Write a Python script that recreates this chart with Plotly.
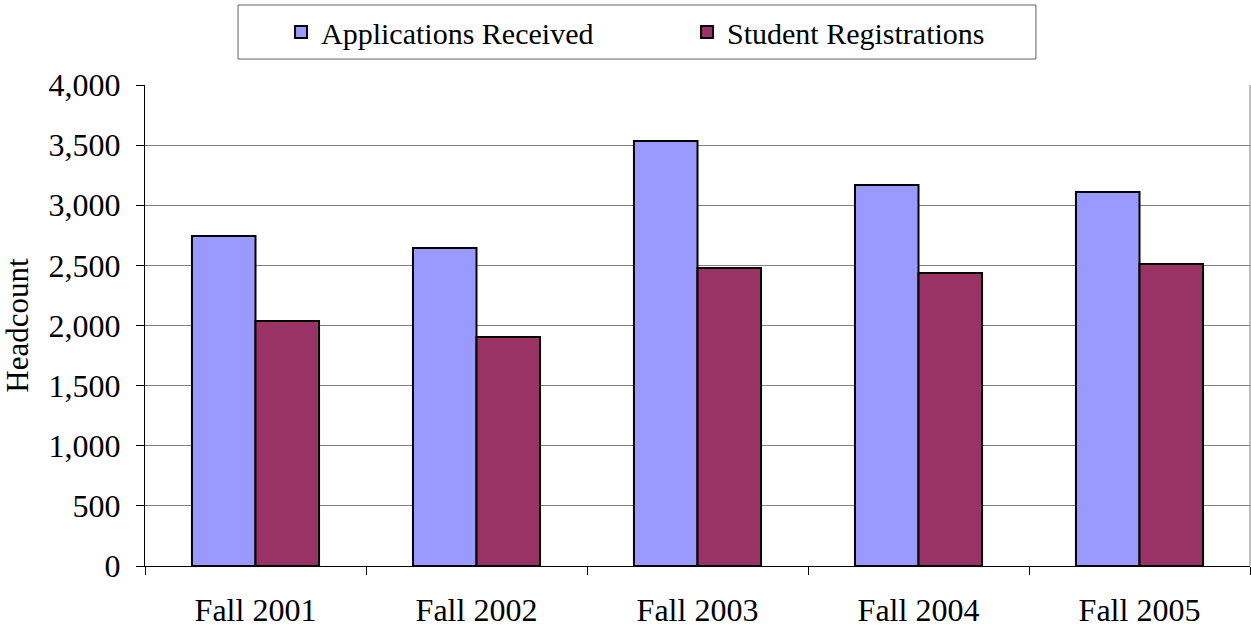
import plotly.graph_objects as go

categories = ["Fall 2001", "Fall 2002", "Fall 2003", "Fall 2004", "Fall 2005"]
applications = [2744, 2644, 3534, 3168, 3110]
registrations = [2037, 1904, 2478, 2437, 2511]
series_names = ["Applications Received", "Student Registrations"]
y_ticks = [0, 500, 1000, 1500, 2000, 2500, 3000, 3500, 4000]
y_ticklabels = ["0", "500", "1,000", "1,500", "2,000", "2,500", "3,000", "3,500", "4,000"]

FONT = "Liberation Serif"

fig = go.Figure()
fig.add_trace(go.Bar(x=categories, y=applications, name=series_names[0],
                     marker=dict(color="#9999FF", line=dict(color="black", width=2))))
fig.add_trace(go.Bar(x=categories, y=registrations, name=series_names[1],
                     marker=dict(color="#993366", line=dict(color="black", width=2))))

fig.update_layout(
    width=1251, height=629,
    margin=dict(l=145, r=1, t=85, b=63, autoexpand=False),
    paper_bgcolor="white", plot_bgcolor="white",
    barmode="group", bargap=0.425, bargroupgap=0,
    font=dict(family=FONT, size=32, color="black"),
    showlegend=True,
    legend=dict(orientation="h", x=0.1231, xanchor="left", y=1.164, yanchor="top",
                borderwidth=0, bgcolor="rgba(0,0,0,0)",
                entrywidth=361, font=dict(family=FONT, size=30, color="black")),
)
fig.update_xaxes(showline=True, linecolor="black", linewidth=1, automargin=False,
                 ticks="outside", tickson="boundaries", ticklen=8, tickcolor="black",
                 showgrid=False, ticklabelstandoff=16,
                 tickfont=dict(family=FONT, size=32))
fig.update_yaxes(range=[0, 4000], tickvals=y_ticks, ticktext=y_ticklabels,
                 showline=True, linecolor="black", linewidth=1, automargin=False,
                 ticks="outside", ticklen=8, tickcolor="black",
                 showgrid=True, gridcolor="#808080", gridwidth=1,
                 ticklabelstandoff=9, zeroline=False,
                 title=dict(text="Headcount", font=dict(family=FONT, size=31), standoff=11),
                 tickfont=dict(family=FONT, size=32))
fig.add_shape(type="line", xref="paper", yref="paper", x0=1, x1=1, y0=0, y1=1,
              line=dict(color="#808080", width=1))
fig.add_shape(type="rect", xref="paper", yref="paper", x0=0.0842, x1=0.8063,
              y0=1.054, y1=1.1663, line=dict(color="#606060", width=1), layer="below")

fig.write_html("out.html", config={"displayModeBar": False},
               post_script="document.body.style.margin='0';document.body.style.overflow='hidden';")
